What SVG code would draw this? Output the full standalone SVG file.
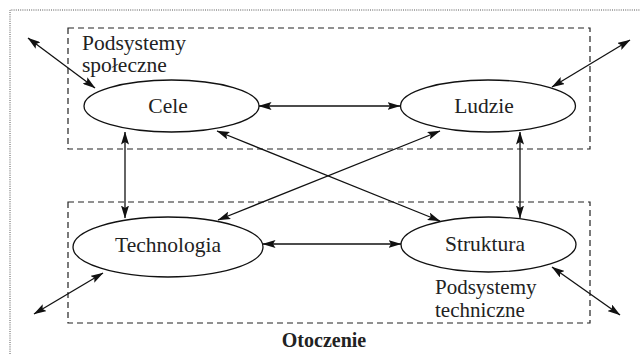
<svg xmlns="http://www.w3.org/2000/svg" width="640" height="354" viewBox="0 0 640 354">
  <style>
    .frame { fill: none; stroke: #555; stroke-width: 1; stroke-dasharray: 1 1.2; }
    .sub { fill: none; stroke: #222; stroke-width: 1.2; stroke-dasharray: 6 4; }
    .node ellipse { fill: #fff; stroke: #111; stroke-width: 1.3; }
    .lbl { font-family: "Liberation Serif", "Times New Roman", serif; font-size: 21.5px; fill: #222; }
    .small { font-size: 21px; }
    .mid { text-anchor: middle; }
    .bold { font-weight: bold; font-size: 20px; }
    .conn line { stroke: #111; stroke-width: 1.3; marker-start: url(#head); marker-end: url(#head); }
  </style>
  <defs>
    <marker id="head" viewBox="0 0 13 8" refX="12.5" refY="4" markerWidth="13" markerHeight="8" markerUnits="userSpaceOnUse" orient="auto-start-reverse">
      <path d="M0,0 L13,4 L0,8 L2.5,4 z" fill="#111"/>
    </marker>
  </defs>

  <rect width="640" height="354" fill="#fff"/>

  <!-- environment frame (only top and left edges fall inside the page) -->
  <path class="frame" d="M10,354 V10 H640"/>

  <!-- subsystem boxes -->
  <rect class="sub" x="68" y="28" width="522" height="121"/>
  <rect class="sub" x="68" y="202" width="522" height="121"/>

  <text class="lbl" x="82" y="50">Podsystemy</text>
  <text class="lbl" x="82" y="72">społeczne</text>
  <text class="lbl small" x="435" y="294">Podsystemy</text>
  <text class="lbl small" x="435" y="317">techniczne</text>
  <text class="lbl mid bold" x="324" y="347">Otoczenie</text>

  <g class="conn">
    <line x1="259" y1="106" x2="400" y2="106"/>
    <line x1="263" y1="244" x2="401" y2="244"/>
    <line x1="125" y1="132" x2="125" y2="218"/>
    <line x1="520" y1="132" x2="520" y2="218"/>
    <line x1="217" y1="131" x2="440" y2="221"/>
    <line x1="440" y1="131" x2="218" y2="220"/>
    <line x1="28" y1="38" x2="95" y2="88"/>
    <line x1="552" y1="87" x2="630" y2="40"/>
    <line x1="103" y1="273" x2="34" y2="314"/>
    <line x1="552" y1="267" x2="620" y2="315"/>
  </g>

  <g id="cele" class="node">
    <ellipse cx="171.5" cy="106" rx="87.5" ry="26"/>
    <text class="lbl mid" x="168" y="113">Cele</text>
  </g>
  <g id="ludzie" class="node">
    <ellipse cx="488" cy="106" rx="87.5" ry="26"/>
    <text class="lbl mid" x="484" y="113">Ludzie</text>
  </g>
  <g id="technologia" class="node">
    <ellipse cx="168" cy="247" rx="95" ry="30"/>
    <text class="lbl mid" x="168" y="252">Technologia</text>
  </g>
  <g id="struktura" class="node">
    <ellipse cx="488.5" cy="244.5" rx="87.5" ry="27.5"/>
    <text class="lbl mid" x="485" y="251">Struktura</text>
  </g>
</svg>
